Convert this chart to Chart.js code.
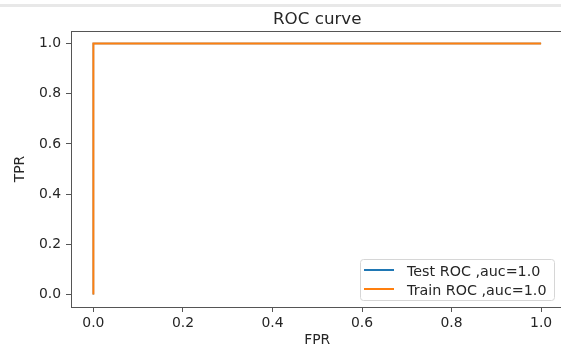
<!DOCTYPE html>
<html>
<head>
<meta charset="utf-8">
<script src="https://cdn.jsdelivr.net/npm/chart.js@4"></script>
<style>
  html, body { margin: 0; padding: 0; background: #fff; }
  #wrap { position: relative; width: 561px; height: 349px; overflow: hidden; background: #fff; }
  #band { position: absolute; left: 0; top: 4px; width: 561px; height: 3px; background: #e8e8e8; }
  canvas { position: absolute; left: 0; top: 0; }
</style>
</head>
<body>
<div id="wrap">
  <div id="band"></div>
  <canvas id="c" width="600" height="349"></canvas>
</div>
<script>
// ---- data ----
const chartTitle = 'ROC curve';
const xAxisLabel = 'FPR';
const yAxisLabel = 'TPR';
const testLabel = 'Test ROC ,auc=1.0';
const trainLabel = 'Train ROC ,auc=1.0';
const testFPR = [0.0, 0.0, 1.0];
const testTPR = [0.0, 1.0, 1.0];
const trainFPR = [0.0, 0.0, 1.0];
const trainTPR = [0.0, 1.0, 1.0];
const xTicks = [0.0, 0.2, 0.4, 0.6, 0.8, 1.0];
const yTicks = [0.0, 0.2, 0.4, 0.6, 0.8, 1.0];

const BLUE = '#1f77b4';
const ORANGE = '#ff7f0e';
const TEXT = '#262626';
const AXIS = '#555555';
const FONT = 'DejaVu Sans';

const toPts = (xs, ys) => xs.map((x, i) => ({ x: x, y: ys[i] }));

const overlayText = {
  id: 'overlayText',
  afterDraw(chart) {
    const ctx = chart.ctx;
    const a = chart.chartArea;
    ctx.save();
    // title
    ctx.fillStyle = TEXT;
    ctx.font = '16.7px "' + FONT + '"';
    ctx.textAlign = 'center';
    ctx.textBaseline = 'alphabetic';
    ctx.fillText(chartTitle, (a.left + a.right) / 2, 24);
    // legend
    const bx = 360.5, by = 259.5, bw = 194, bh = 41, r = 3;
    ctx.beginPath();
    ctx.moveTo(bx + r, by);
    ctx.lineTo(bx + bw - r, by);
    ctx.quadraticCurveTo(bx + bw, by, bx + bw, by + r);
    ctx.lineTo(bx + bw, by + bh - r);
    ctx.quadraticCurveTo(bx + bw, by + bh, bx + bw - r, by + bh);
    ctx.lineTo(bx + r, by + bh);
    ctx.quadraticCurveTo(bx, by + bh, bx, by + bh - r);
    ctx.lineTo(bx, by + r);
    ctx.quadraticCurveTo(bx, by, bx + r, by);
    ctx.closePath();
    ctx.fillStyle = 'rgba(255,255,255,0.85)';
    ctx.fill();
    ctx.strokeStyle = '#d6d6d6';
    ctx.lineWidth = 1;
    ctx.stroke();
    const rows = chart.data.datasets;
    const rowY = [270, 289];
    ctx.font = '14.3px "' + FONT + '"';
    ctx.textAlign = 'left';
    ctx.textBaseline = 'alphabetic';
    rows.forEach((ds, i) => {
      ctx.strokeStyle = ds.borderColor;
      ctx.lineWidth = 2;
      ctx.beginPath();
      ctx.moveTo(364, rowY[i]);
      ctx.lineTo(394, rowY[i]);
      ctx.stroke();
      ctx.fillStyle = TEXT;
      ctx.fillText(ds.label, 407, rowY[i] + 5.5);
    });
    ctx.restore();
  }
};

new Chart(document.getElementById('c'), {
  type: 'scatter',
  data: {
    datasets: [
      { label: testLabel, data: toPts(testFPR, testTPR), showLine: true, borderColor: BLUE, backgroundColor: BLUE, borderWidth: 1.5, pointRadius: 0, order: 1 },
      { label: trainLabel, data: toPts(trainFPR, trainTPR), showLine: true, borderColor: ORANGE, backgroundColor: ORANGE, borderWidth: 2, pointRadius: 0, order: 0 }
    ]
  },
  options: {
    responsive: false,
    animation: false,
    devicePixelRatio: 1,
    layout: { padding: { top: 31, right: 36.5, left: 0, bottom: 0 } },
    plugins: { legend: { display: false }, title: { display: false }, tooltip: { enabled: false } },
    scales: {
      x: {
        type: 'linear', min: -0.05, max: 1.05,
        afterBuildTicks: s => { s.ticks = xTicks.map(v => ({ value: v })); },
        afterFit: s => { s.height = 42; },
        ticks: { callback: v => Number(v).toFixed(1), color: TEXT, font: { family: FONT, size: 13.9 }, padding: 3, maxRotation: 0, autoSkip: false },
        grid: { drawOnChartArea: false, drawTicks: true, tickLength: 5, color: AXIS, tickWidth: 1 },
        border: { display: true, color: AXIS, width: 1 },
        title: { display: true, text: xAxisLabel, color: TEXT, font: { family: FONT, size: 13.9, lineHeight: 1.2 }, padding: { top: 0, bottom: 0 } }
      },
      y: {
        type: 'linear', min: -0.05, max: 1.05,
        afterBuildTicks: s => { s.ticks = yTicks.map(v => ({ value: v })); },
        afterFit: s => { s.width = 71; },
        ticks: { callback: v => Number(v).toFixed(1), color: TEXT, font: { family: FONT, size: 13.9 }, padding: 5, autoSkip: false },
        grid: { drawOnChartArea: false, drawTicks: true, tickLength: 5, color: AXIS, tickWidth: 1 },
        border: { display: true, color: AXIS, width: 1 },
        title: { display: true, text: yAxisLabel, color: TEXT, font: { family: FONT, size: 13.9, lineHeight: 1.2 }, padding: { top: 11.6, bottom: 0 } }
      },
      x2: {
        type: 'linear', position: 'top', min: -0.05, max: 1.05,
        afterFit: s => { s.height = 0; },
        ticks: { display: false }, grid: { display: false },
        border: { display: true, color: AXIS, width: 1 }
      },
      y2: {
        type: 'linear', position: 'right', min: -0.05, max: 1.05,
        afterFit: s => { s.width = 0; },
        ticks: { display: false }, grid: { display: false },
        border: { display: true, color: AXIS, width: 1 }
      }
    }
  },
  plugins: [overlayText]
});
</script>
</body>
</html>
